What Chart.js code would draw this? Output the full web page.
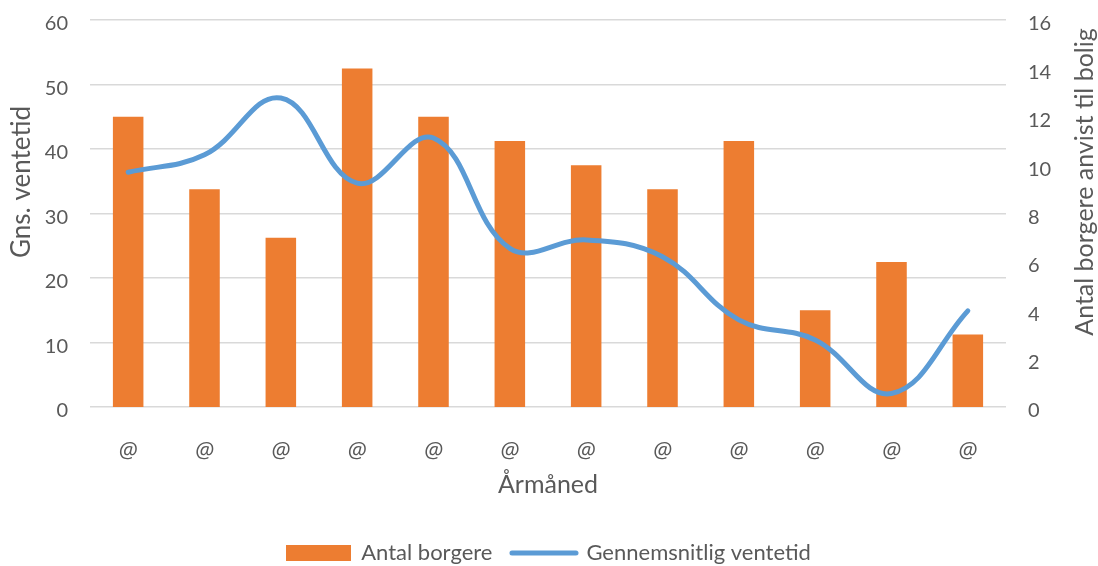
<!DOCTYPE html>
<html>
<head>
<meta charset="utf-8">
<script src="https://cdn.jsdelivr.net/npm/chart.js@4"></script>
<style>
  html, body { margin: 0; padding: 0; background: #ffffff; }
  #wrap { width: 1098px; height: 566px; }
</style>
</head>
<body>
<div id="wrap"><canvas id="chart" width="1098" height="566"></canvas></div>
<script>
// Month labels along the x axis
const months = ['@', '@', '@', '@', '@', '@', '@', '@', '@', '@', '@', '@'];
// Number of citizens assigned housing (right axis)
const antalBorgere = [12, 9, 7, 14, 12, 11, 10, 9, 11, 4, 6, 3];
// Average waiting time (left axis)
const ventetid = [36.4, 39.1, 47.9, 34.7, 41.7, 24.6, 25.9, 23.3, 13.5, 10.4, 2.1, 14.9];

const leftTicks = { min: 0, max: 60, step: 10 };
const rightTicks = { min: 0, max: 16, step: 2 };

const ORANGE = '#ED7D31';
const BLUE = '#5B9BD5';
const TEXT = '#595959';
const FONT = 'Lato, "Open Sans", sans-serif';

// Legend swatches: a filled block for the bars, a thick rounded line for the curve
function swatch(w, h, draw) {
  const c = document.createElement('canvas');
  c.width = w; c.height = h;
  draw(c.getContext('2d'));
  return c;
}
const barSwatch = swatch(65, 16, g => { g.fillStyle = ORANGE; g.fillRect(0, 0, 65, 16); });
const lineSwatch = swatch(70, 8, g => {
  g.strokeStyle = BLUE; g.lineWidth = 5; g.lineCap = 'round';
  g.beginPath(); g.moveTo(3, 4); g.lineTo(67, 4); g.stroke();
});

// Vertical axis titles, both reading bottom-to-top
const axisTitles = {
  id: 'axisTitles',
  afterDraw(chart) {
    const ctx = chart.ctx;
    ctx.save();
    ctx.fillStyle = TEXT;
    ctx.textAlign = 'center';
    ctx.textBaseline = 'middle';
    [[22, 182, 26, 'Gns. ventetid'], [1085, 182, 25, 'Antal borgere anvist til bolig']].forEach(([x, y, size, t]) => {
      ctx.save();
      ctx.font = size + 'px ' + FONT;
      ctx.translate(x, y);
      ctx.rotate(-Math.PI / 2);
      ctx.fillText(t, 0, 0);
      ctx.restore();
    });
    ctx.restore();
  }
};

// Keep the value axes from reserving extra room above and below the plot
function trimVertical(s) {
  s.paddingTop = 20;
  s.paddingBottom = 12;
}

new Chart(document.getElementById('chart'), {
  data: {
    labels: months,
    datasets: [
      {
        type: 'bar',
        label: 'Antal borgere',
        data: antalBorgere,
        yAxisID: 'y1',
        backgroundColor: ORANGE,
        borderWidth: 0,
        categoryPercentage: 0.8,
        barPercentage: 0.5,
        order: 1
      },
      {
        type: 'line',
        label: 'Gennemsnitlig ventetid',
        data: ventetid,
        yAxisID: 'y',
        borderColor: BLUE,
        backgroundColor: BLUE,
        borderWidth: 5,
        borderCapStyle: 'round',
        pointRadius: 0,
        tension: 0.4,
        fill: false,
        order: 0
      }
    ]
  },
  options: {
    responsive: false,
    animation: false,
    events: [],
    layout: { padding: { top: 0, left: 0, right: 0, bottom: -8 } },
    scales: {
      x: {
        offset: true,
        grid: { display: false, drawTicks: false },
        border: { display: false },
        ticks: { color: TEXT, padding: 32, font: { family: '"Open Sans", sans-serif', size: 22, style: 'italic' } },
        title: { display: true, text: 'Årmåned', color: TEXT, padding: { top: 0, bottom: 22 }, font: { family: FONT, size: 25 } },
        afterFit(s) { s.height = 115; }
      },
      y: {
        position: 'left',
        min: leftTicks.min, max: leftTicks.max,
        ticks: { stepSize: leftTicks.step, color: TEXT, padding: 22, labelOffset: 4, font: { family: FONT, size: 20 } },
        grid: { color: '#D9D9D9', lineWidth: 1.5, drawTicks: false },
        border: { display: false },
        afterFit(s) { s.width = 90; trimVertical(s); }
      },
      y1: {
        position: 'right',
        min: rightTicks.min, max: rightTicks.max,
        ticks: { stepSize: rightTicks.step, color: TEXT, padding: 22, labelOffset: 4, font: { family: FONT, size: 20 } },
        grid: { display: false, drawTicks: false },
        border: { display: false },
        afterFit(s) { s.width = 92; trimVertical(s); }
      }
    },
    plugins: {
      tooltip: { enabled: false },
      legend: {
        position: 'bottom',
        labels: {
          color: TEXT,
          font: { family: FONT, size: 22 },
          usePointStyle: true,
          pointStyleWidth: 63,
          padding: 20,
          sort: (a, b) => a.datasetIndex - b.datasetIndex,
          generateLabels(chart) {
            const items = Chart.defaults.plugins.legend.labels.generateLabels(chart);
            items.forEach(it => { it.pointStyle = it.datasetIndex === 0 ? barSwatch : lineSwatch; });
            return items;
          }
        }
      }
    }
  },
  plugins: [axisTitles]
});
</script>
</body>
</html>
